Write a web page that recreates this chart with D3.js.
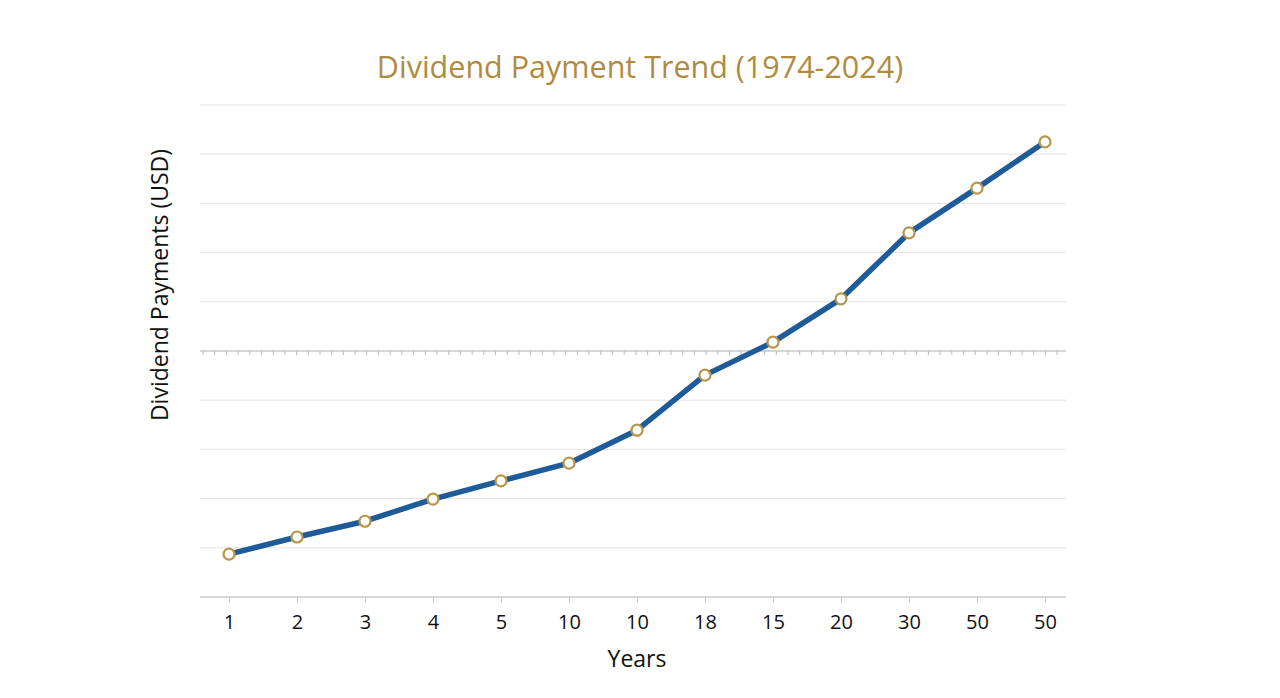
<!DOCTYPE html>
<html><head><meta charset="utf-8">
<script src="https://cdn.jsdelivr.net/npm/d3@7"></script>
<style>body{margin:0;background:#fff;} svg{display:block;}</style>
</head><body>
<svg id="c" width="1280" height="698"></svg>
<script>
const categories = ["1","2","3","4","5","10","10","18","15","20","30","50","50"];
const values = [8.7, 12.2, 15.4, 19.9, 23.6, 27.2, 33.9, 45.1, 51.8, 60.6, 74.0, 83.1, 92.5];
const yTicks = [0,10,20,30,40,50,60,70,80,90,100];

(function(){
const svg = d3.select("#c");
const pLeft = 200, pRight = 1066, pTop = 105, pBottom = 597;
const x = d3.scalePoint().domain(d3.range(categories.length)).range([229, 1045]);
const y = d3.scaleLinear().domain([0, 100]).range([pBottom, pTop]);
const font = "'Open Sans', 'Noto Sans', sans-serif";

svg.append("text").attr("x", 640).attr("y", 78).attr("text-anchor", "middle")
  .attr("font-family", font).attr("font-size", 30.5).attr("fill", "#b08b3f").attr("font-weight", 500)
  .text("Dividend Payment Trend (1974-2024)");

// gridlines
svg.append("g").selectAll("line").data(yTicks.filter(d => d !== 0 && d !== 50)).join("line")
  .attr("x1", pLeft).attr("x2", pRight).attr("y1", d => y(d)).attr("y2", d => y(d))
  .attr("stroke", "#e3e3e3").attr("stroke-width", 1);

// special middle line with small ticks
const midY = y(50);
svg.append("line").attr("x1", pLeft).attr("x2", pRight).attr("y1", midY).attr("y2", midY)
  .attr("stroke", "#c8c8c8").attr("stroke-width", 1.3);
svg.append("g").selectAll("line").data(d3.range(pLeft + 3, pRight, 11.7)).join("line")
  .attr("x1", d => d).attr("x2", d => d).attr("y1", midY).attr("y2", midY + 4)
  .attr("stroke", "#b8b8b8").attr("stroke-width", 1);

// x axis
const xAxis = d3.axisBottom(x).tickSize(6).tickPadding(12).tickFormat(i => categories[i]);
const gx = svg.append("g").attr("transform", `translate(0,${pBottom})`).call(xAxis);
gx.select(".domain").attr("d", `M${pLeft},0H${pRight}`).attr("stroke", "#cccccc").attr("stroke-width", 1.5);
gx.selectAll(".tick line").attr("stroke", "#cccccc").attr("stroke-width", 1.2);
gx.selectAll(".tick text").attr("font-family", font).attr("font-size", 20).attr("fill", "#111");

svg.append("text").attr("x", 637).attr("y", 667).attr("text-anchor", "middle")
  .attr("font-family", font).attr("font-size", 23).attr("fill", "#111").text("Years");

svg.append("text").attr("transform", "translate(168,285) rotate(-90)").attr("text-anchor", "middle")
  .attr("font-family", font).attr("font-size", 23).attr("fill", "#111").text("Dividend Payments (USD)");

// line
const line = d3.line().x((d, i) => x(i)).y(d => y(d));
svg.append("path").datum(values).attr("d", line).attr("fill", "none")
  .attr("stroke", "#1f5b98").attr("stroke-width", 5.5).attr("stroke-linejoin", "round");

svg.append("g").selectAll("circle").data(values).join("circle")
  .attr("cx", (d, i) => x(i)).attr("cy", d => y(d)).attr("r", 5.5)
  .attr("fill", "#fff").attr("stroke", "#b8954a").attr("stroke-width", 2.2);
})();
</script>
</body></html>
